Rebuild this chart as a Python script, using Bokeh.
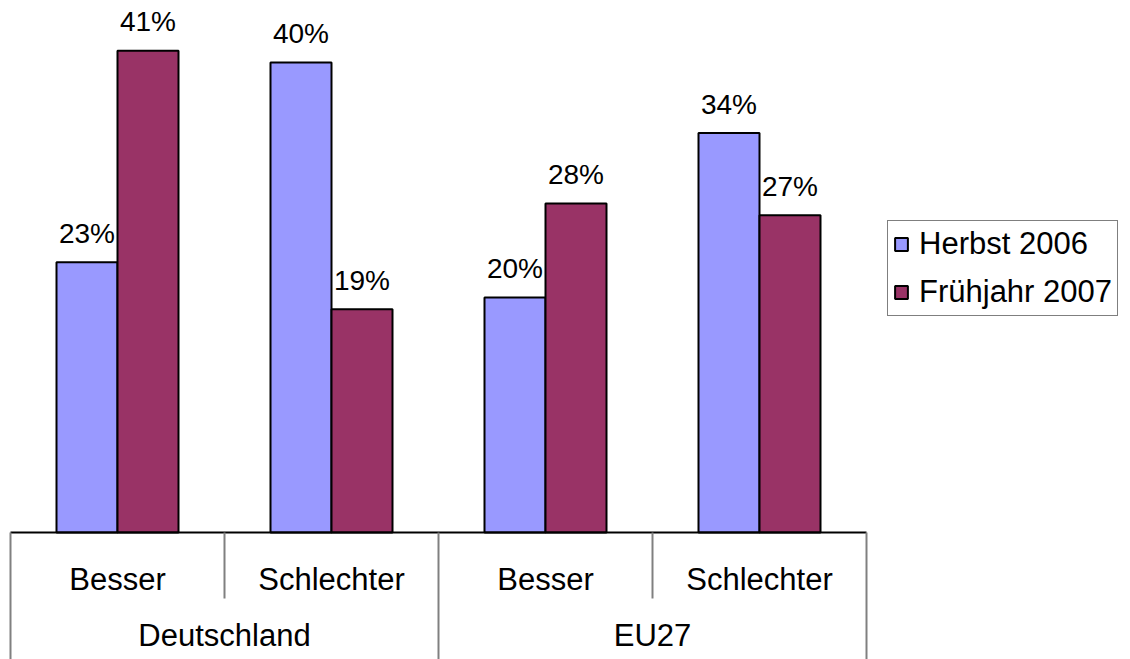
from bokeh.plotting import figure
from bokeh.models import ColumnDataSource, Range1d, Legend, LegendItem
from bokeh.core.properties import value
from bokeh.embed import file_html
from bokeh.resources import INLINE

# ---- data ----
groups = ["Deutschland", "EU27"]
answers = ["Besser", "Schlechter"]
series = ["Herbst 2006", "Frühjahr 2007"]
herbst_2006 = [23, 40, 20, 34]
fruehjahr_2007 = [41, 19, 28, 27]
colors = ["#9999FF", "#993366"]

FONT = "Liberation Sans"
W, H = 1130, 659
PX_X = 214.0      # pixels per category
PX_Y = 11.75      # pixels per percent
BASE = 532        # screen y of the category axis
LEFT = 10         # screen x of the category axis start
x0 = -LEFT / PX_X
x1 = x0 + W / PX_X
y1 = BASE / PX_Y
y0 = y1 - H / PX_Y

p = figure(width=W, height=H, output_backend="svg", toolbar_location=None,
           x_range=Range1d(x0, x1), y_range=Range1d(y0, y1),
           min_border=0, outline_line_color=None)
p.xaxis.visible = False
p.yaxis.visible = False
p.xgrid.visible = False
p.ygrid.visible = False
p.background_fill_color = "white"
p.border_fill_color = "white"

n = len(groups) * len(answers)
centers = [i + 0.5 for i in range(n)]
bw = 61 / PX_X
off = bw / 2

src = ColumnDataSource(dict(
    xh=[c - off for c in centers], xf=[c + off for c in centers],
    h=herbst_2006, f=fruehjahr_2007,
    hl=[f"{v}%" for v in herbst_2006], fl=[f"{v}%" for v in fruehjahr_2007],
    hy=[v + 29 / PX_Y for v in herbst_2006], fy=[v + 29 / PX_Y for v in fruehjahr_2007],
))

r1 = p.vbar(x="xh", top="h", bottom=0, width=bw, source=src,
            fill_color=colors[0], line_color="black", line_width=2)
r2 = p.vbar(x="xf", top="f", bottom=0, width=bw, source=src,
            fill_color=colors[1], line_color="black", line_width=2)

for xc, yc, lc in (("xh", "hy", "hl"), ("xf", "fy", "fl")):
    p.text(x=xc, y=yc, text=lc, source=src, text_font=value(FONT),
           text_font_size="28px", text_align="center", text_baseline="middle",
           text_color="black")

# category axis box
p.segment(x0=[0], y0=[0], x1=[n], y1=[0], line_color="black", line_width=2)
outer_x = [0, 2, 4]
p.segment(x0=outer_x, y0=[0] * 3, x1=outer_x, y1=[y0] * 3,
          line_color="#808080", line_width=2)
inner_x = [1, 3]
sep_bot = -(598 - BASE) / PX_Y
p.segment(x0=inner_x, y0=[0] * 2, x1=inner_x, y1=[sep_bot] * 2,
          line_color="#808080", line_width=2)

sub_labels = [a for g in groups for a in answers]
p.text(x=centers, y=[-(579 - BASE) / PX_Y] * n, text=sub_labels,
       text_font=value(FONT), text_font_size="31px", text_align="center",
       text_baseline="middle", text_color="black")
p.text(x=[1.0, 3.0], y=[-(635 - BASE) / PX_Y] * 2, text=groups,
       text_font=value(FONT), text_font_size="31px", text_align="center",
       text_baseline="middle", text_color="black")

legend = Legend(items=[LegendItem(label=series[0], renderers=[r1]),
                       LegendItem(label=series[1], renderers=[r2])],
                location=(887, H - 316),
                glyph_width=16, glyph_height=16, label_height=30,
                label_standoff=10, spacing=12, padding=5, margin=0,
                label_text_font=FONT, label_text_font_size="31px",
                label_text_color="black", label_text_baseline="middle",
                border_line_color="black", border_line_width=1,
                background_fill_color="white", background_fill_alpha=1)
p.add_layout(legend)

open("out.html", "w").write(file_html(p, INLINE))
